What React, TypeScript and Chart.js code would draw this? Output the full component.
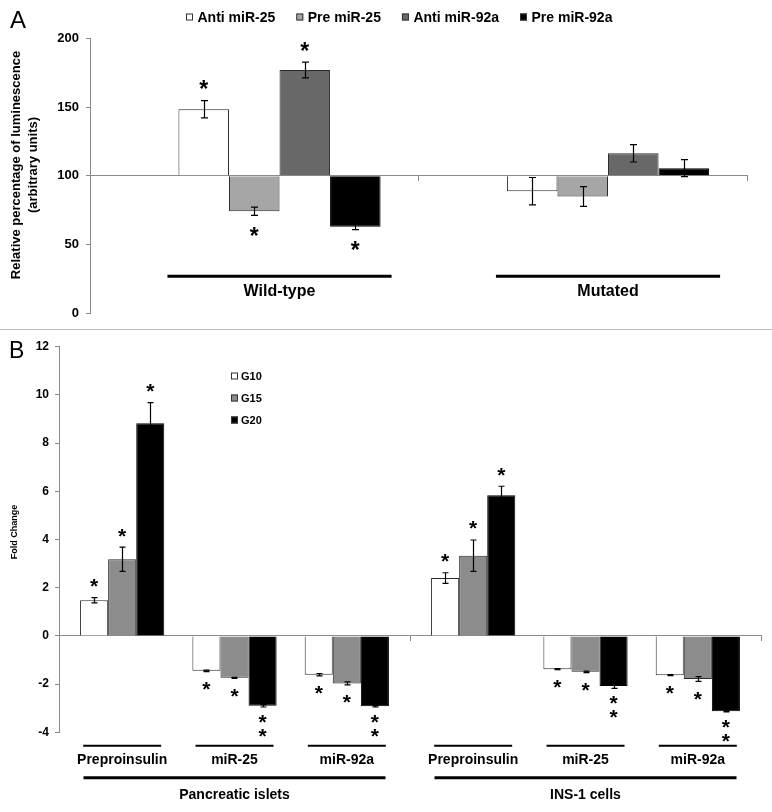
import React, { useEffect, useRef } from 'react';
import { Chart, registerables } from 'chart.js';

Chart.register(...registerables);

const FONT = '"Liberation Sans", Arial, Helvetica, sans-serif';

// ---------------- Panel A data ----------------
const groupsA = ['Wild-type', 'Mutated'];
const seriesNamesA = ['Anti miR-25', 'Pre miR-25', 'Anti miR-92a', 'Pre miR-92a'];
const antiMiR25 = [148.5, 88.8];
const preMiR25 = [74.2, 85.0];
const antiMiR92a = [177.1, 116.4];
const preMiR92a = [63.0, 105.6];
const antiMiR25Err = [6.3, 10.0];
const preMiR25Err = [3.0, 7.2];
const antiMiR92aErr = [5.7, 6.3];
const preMiR92aErr = [2.1, 6.2];
const antiMiR25Sig = [1, 0];
const preMiR25Sig = [1, 0];
const antiMiR92aSig = [1, 0];
const preMiR92aSig = [1, 0];
const baselineA = 100;
const ticksA = [0, 50, 100, 150, 200];
const yTitleA = ['Relative percentage of luminescence', '(arbitrary units)'];
const colorsA = ['#ffffff', '#a6a6a6', '#686868', '#000000'];

// ---------------- Panel B data ----------------
const cellTypes = ['Pancreatic islets', 'INS-1 cells'];
const genes = ['Preproinsulin', 'miR-25', 'miR-92a'];
const glucoseLevels = ['G10', 'G15', 'G20'];
// order: islets [Preproinsulin, miR-25, miR-92a], INS-1 [Preproinsulin, miR-25, miR-92a]
const g10 = [1.48, -1.45, -1.61, 2.4, -1.38, -1.63];
const g15 = [3.18, -1.74, -1.97, 3.33, -1.49, -1.79];
const g20 = [8.82, -2.9, -2.92, 5.84, -2.08, -3.13];
const g10Err = [0.11, 0.03, 0.05, 0.22, 0.02, 0.02];
const g15Err = [0.5, 0.02, 0.06, 0.65, 0.03, 0.1];
const g20Err = [0.86, 0.05, 0.03, 0.37, 0.1, 0.02];
const g10Sig = [1, 1, 1, 1, 1, 1];
const g15Sig = [1, 1, 1, 1, 1, 1];
const g20Sig = [1, 2, 2, 1, 2, 2];
const ticksB = [-4, -2, 0, 2, 4, 6, 8, 10, 12];
const yTitleB = 'Fold Change';
const colorsB = ['#ffffff', '#8c8c8c', '#000000'];

const AXIS_GRAY = '#8a8a8a';

function drawStar(ctx: CanvasRenderingContext2D, x: number, cy: number) {
  const m = ctx.measureText('*');
  const y = cy + (m.actualBoundingBoxAscent - m.actualBoundingBoxDescent) / 2;
  ctx.fillText('*', x, y);
}

const errorStarPlugin = {
  id: 'errorStars',
  afterDatasetsDraw(chart: any, _args: any, opts: any) {
    const ctx: CanvasRenderingContext2D = chart.ctx;
    const yScale = chart.scales.y;
    chart.data.datasets.forEach((ds: any, d: number) => {
      if (!ds.errors) return;
      const meta = chart.getDatasetMeta(d);
      const base = ds.base ?? 0;
      meta.data.forEach((bar: any, i: number) => {
        const v = ds.data[i];
        if (v == null) return;
        const e = ds.errors[i];
        const yHi = yScale.getPixelForValue(v + e);
        const yLo = yScale.getPixelForValue(v - e);
        const x = Math.round(bar.x) + 0.5;
        ctx.save();
        ctx.strokeStyle = '#000';
        ctx.lineWidth = opts.lineWidth;
        ctx.beginPath();
        ctx.moveTo(x, yHi);
        ctx.lineTo(x, yLo);
        ctx.moveTo(x - opts.cap, yHi);
        ctx.lineTo(x + opts.cap, yHi);
        ctx.moveTo(x - opts.cap, yLo);
        ctx.lineTo(x + opts.cap, yLo);
        ctx.stroke();
        const n = ds.sig ? ds.sig[i] : 0;
        const up = v >= base;
        const end = up ? yHi : yLo;
        ctx.fillStyle = '#000';
        ctx.font = opts.starFont;
        ctx.textAlign = 'center';
        ctx.textBaseline = 'alphabetic';
        for (let k = 0; k < n; k++) {
          const off = (n > 1 ? opts.multiOffset : opts.offset) + k * opts.gap;
          drawStar(ctx, bar.x, up ? end - off : end + off);
        }
        ctx.restore();
      });
    });
  },
};

const panelALabels = {
  id: 'panelALabels',
  afterDraw(chart: any) {
    const ctx: CanvasRenderingContext2D = chart.ctx;
    const area = chart.chartArea;
    ctx.save();
    ctx.fillStyle = '#000';
    ctx.font = `24px ${FONT}`;
    ctx.textAlign = 'left';
    ctx.textBaseline = 'alphabetic';
    ctx.fillText('A', 10, 28);

    // legend
    ctx.font = `bold 14px ${FONT}`;
    const box = 7;
    const boxGap = 4.5;
    const itemGap = 21;
    const widths = seriesNamesA.map((n) => ctx.measureText(n).width);
    const total = widths.reduce((a, w) => a + box + boxGap + w, 0) + itemGap * (widths.length - 1);
    let lx = Math.round(399 - total / 2);
    const ly = 17;
    seriesNamesA.forEach((name, k) => {
      ctx.fillStyle = colorsA[k];
      ctx.fillRect(lx, ly - 3.5, box, box);
      ctx.strokeStyle = '#333';
      ctx.lineWidth = 1;
      ctx.strokeRect(lx + 0.5, ly - 3, box - 1, box - 1);
      ctx.fillStyle = '#000';
      ctx.textBaseline = 'middle';
      ctx.fillText(name, lx + box + boxGap, ly + 1);
      lx += box + boxGap + widths[k] + itemGap;
    });

    // y title
    ctx.save();
    ctx.translate(16, 165);
    ctx.rotate(-Math.PI / 2);
    ctx.textAlign = 'center';
    ctx.textBaseline = 'middle';
    ctx.font = `bold 13px ${FONT}`;
    ctx.fillText(yTitleA[0], 0, 0);
    ctx.fillText(yTitleA[1], 0, 17);
    ctx.restore();

    // category underlines + labels
    const first = chart.getDatasetMeta(1);
    const last = chart.getDatasetMeta(chart.data.datasets.length - 1);
    groupsA.forEach((g, i) => {
      const b0 = first.data[i];
      const b1 = last.data[i];
      const left = b0.x - b0.width / 2 - 11;
      const right = b1.x + b1.width / 2 + 11;
      ctx.strokeStyle = '#000';
      ctx.lineWidth = 3;
      ctx.beginPath();
      ctx.moveTo(left, area.bottom - 37);
      ctx.lineTo(right, area.bottom - 37);
      ctx.stroke();
      ctx.font = `bold 16px ${FONT}`;
      ctx.textAlign = 'center';
      ctx.textBaseline = 'middle';
      ctx.fillText(g, (left + right) / 2, area.bottom - 22);
    });
    ctx.restore();
  },
};

const panelBLabels = {
  id: 'panelBLabels',
  afterDraw(chart: any) {
    const ctx: CanvasRenderingContext2D = chart.ctx;
    const area = chart.chartArea;
    const xScale = chart.scales.x;
    ctx.save();
    ctx.fillStyle = '#000';
    ctx.font = `23px ${FONT}`;
    ctx.textAlign = 'left';
    ctx.textBaseline = 'alphabetic';
    ctx.fillText('B', 9, 27);

    // legend
    ctx.font = `bold 11px ${FONT}`;
    glucoseLevels.forEach((name, k) => {
      const cy = 45 + k * 22;
      ctx.fillStyle = colorsB[k];
      ctx.fillRect(231, cy - 3.5, 7, 7);
      ctx.strokeStyle = '#333';
      ctx.lineWidth = 1;
      ctx.strokeRect(231.5, cy - 3, 6, 6);
      ctx.fillStyle = '#000';
      ctx.textBaseline = 'middle';
      ctx.textAlign = 'left';
      ctx.fillText(name, 241, cy + 0.5);
    });

    // y title
    ctx.save();
    ctx.translate(15, 201);
    ctx.rotate(-Math.PI / 2);
    ctx.textAlign = 'center';
    ctx.textBaseline = 'middle';
    ctx.font = `bold 9px ${FONT}`;
    ctx.fillText(yTitleB, 0, 0);
    ctx.restore();

    // gene labels & cell-type labels
    cellTypes.forEach((ct, c) => {
      genes.forEach((gName, gi) => {
        const meta = chart.getDatasetMeta(gi * 4 + 1);
        const cx = meta.data[c].x;
        ctx.strokeStyle = '#000';
        ctx.lineWidth = 2;
        ctx.beginPath();
        ctx.moveTo(cx - 39, area.bottom + 13.5);
        ctx.lineTo(cx + 39, area.bottom + 13.5);
        ctx.stroke();
        ctx.font = `bold 14px ${FONT}`;
        ctx.textAlign = 'center';
        ctx.textBaseline = 'middle';
        ctx.fillText(gName, cx, area.bottom + 28);
      });
      const ccx = xScale.getPixelForValue(c);
      ctx.lineWidth = 3;
      ctx.beginPath();
      ctx.moveTo(ccx - 151, area.bottom + 45.5);
      ctx.lineTo(ccx + 151, area.bottom + 45.5);
      ctx.stroke();
      ctx.font = `bold 14px ${FONT}`;
      ctx.fillText(ct, ccx, area.bottom + 63);
    });
    ctx.restore();
  },
};

function buildConfigA(): any {
  const vals = [antiMiR25, preMiR25, antiMiR92a, preMiR92a];
  const errs = [antiMiR25Err, preMiR25Err, antiMiR92aErr, preMiR92aErr];
  const sigs = [antiMiR25Sig, preMiR25Sig, antiMiR92aSig, preMiR92aSig];
  const spacer = {
    label: '',
    data: groupsA.map(() => null),
    backgroundColor: 'rgba(0,0,0,0)',
    borderWidth: 0,
  };
  const datasets = [
    spacer,
    ...seriesNamesA.map((name, k) => ({
      label: name,
      data: vals[k],
      base: baselineA,
      backgroundColor: colorsA[k],
      borderColor: k === 3 ? '#000' : '#2a2a2a',
      borderWidth: 1,
      errors: errs[k],
      sig: sigs[k],
    })),
  ];
  return {
    type: 'bar',
    data: { labels: groupsA, datasets },
    plugins: [errorStarPlugin, panelALabels],
    options: {
      responsive: false,
      animation: false,
      layout: { padding: { left: 0, right: 25, top: 38.5, bottom: 12.3 } },
      datasets: { bar: { categoryPercentage: 5 / 6.5, barPercentage: 1 } },
      plugins: {
        legend: { display: false },
        tooltip: { enabled: false },
        errorStars: {
          lineWidth: 1.2,
          cap: 3.5,
          starFont: `bold 23px ${FONT}`,
          offset: 16,
          multiOffset: 12,
          gap: 14,
        },
      },
      scales: {
        x: {
          type: 'category',
          position: { y: baselineA },
          z: 1,
          offset: true,
          grid: { offset: true, drawOnChartArea: false, drawTicks: true, tickLength: 5, color: AXIS_GRAY },
          border: { color: AXIS_GRAY, width: 1 },
          ticks: { display: false },
        },
        y: {
          min: ticksA[0],
          max: ticksA[ticksA.length - 1],
          afterBuildTicks: (s: any) => {
            s.ticks = ticksA.map((v) => ({ value: v }));
          },
          afterFit: (s: any) => {
            s.width = 90;
          },
          ticks: { font: { family: FONT, size: 13, weight: 'bold' }, color: '#000', padding: 7 },
          grid: { drawOnChartArea: false, drawTicks: true, tickLength: 4, color: AXIS_GRAY },
          border: { color: AXIS_GRAY, width: 1 },
        },
      },
    },
  };
}

function buildConfigB(): any {
  const vals = [g10, g15, g20];
  const errs = [g10Err, g15Err, g20Err];
  const sigs = [g10Sig, g15Sig, g20Sig];
  const datasets: any[] = [];
  genes.forEach((gene, gi) => {
    if (gi > 0) {
      datasets.push({
        label: '',
        data: cellTypes.map(() => null),
        backgroundColor: 'rgba(0,0,0,0)',
        borderWidth: 0,
      });
    }
    glucoseLevels.forEach((lvl, li) => {
      datasets.push({
        label: `${gene} ${lvl}`,
        data: cellTypes.map((_, c) => vals[li][c * genes.length + gi]),
        backgroundColor: colorsB[li],
        borderColor: li === 2 ? '#000' : '#2a2a2a',
        borderWidth: 1,
        errors: cellTypes.map((_, c) => errs[li][c * genes.length + gi]),
        sig: cellTypes.map((_, c) => sigs[li][c * genes.length + gi]),
      });
    });
  });
  return {
    type: 'bar',
    data: { labels: cellTypes, datasets },
    plugins: [errorStarPlugin, panelBLabels],
    options: {
      responsive: false,
      animation: false,
      layout: { padding: { left: 0, right: 11, top: 15.7, bottom: 79.7 } },
      datasets: { bar: { categoryPercentage: 11 / 12.5, barPercentage: 1 } },
      plugins: {
        legend: { display: false },
        tooltip: { enabled: false },
        errorStars: {
          lineWidth: 1.2,
          cap: 3,
          starFont: `bold 21px ${FONT}`,
          offset: 14.5,
          multiOffset: 12,
          gap: 14,
        },
      },
      scales: {
        x: {
          type: 'category',
          position: { y: 0 },
          z: 1,
          offset: true,
          grid: { offset: true, drawOnChartArea: false, drawTicks: true, tickLength: 5, color: AXIS_GRAY },
          border: { color: AXIS_GRAY, width: 1 },
          ticks: { display: false },
        },
        y: {
          min: ticksB[0],
          max: ticksB[ticksB.length - 1],
          afterBuildTicks: (s: any) => {
            s.ticks = ticksB.map((v) => ({ value: v }));
          },
          afterFit: (s: any) => {
            s.width = 59;
          },
          ticks: { font: { family: FONT, size: 12, weight: 'bold' }, color: '#000', padding: 6 },
          grid: { drawOnChartArea: false, drawTicks: true, tickLength: 4, color: AXIS_GRAY },
          border: { color: AXIS_GRAY, width: 1 },
        },
      },
    },
  };
}

function ChartCanvas(props: { build: () => any; width: number; height: number; top: number }) {
  const ref = useRef<HTMLCanvasElement | null>(null);
  useEffect(() => {
    const chart = new Chart(ref.current as HTMLCanvasElement, props.build());
    return () => chart.destroy();
  }, []);
  return (
    <canvas
      ref={ref}
      width={props.width}
      height={props.height}
      style={{ position: 'absolute', left: 0, top: props.top, width: props.width, height: props.height }}
    />
  );
}

export default function App() {
  return (
    <div style={{ position: 'absolute', left: 0, top: 0, width: 772, height: 812, background: '#fff', overflow: 'hidden' }}>
      <ChartCanvas build={buildConfigA} width={772} height={328} top={0} />
      <div style={{ position: 'absolute', left: 0, top: 329, width: 772, height: 1, background: '#bdbdbd' }} />
      <ChartCanvas build={buildConfigB} width={772} height={481} top={331} />
    </div>
  );
}
